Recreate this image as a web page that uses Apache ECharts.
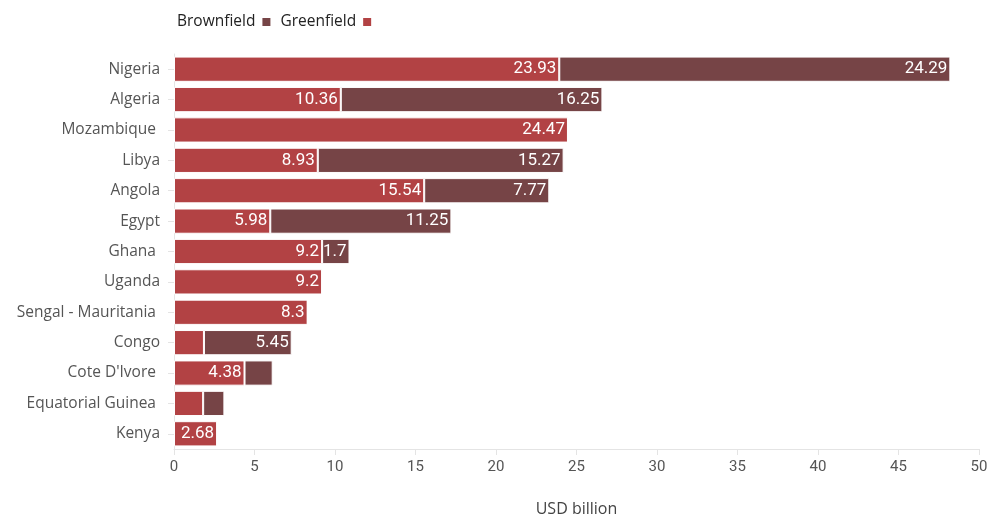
<!DOCTYPE html>
<html>
<head>
<meta charset="utf-8">
<script src="https://cdn.jsdelivr.net/npm/echarts@6/dist/echarts.min.js"></script>
<style>html,body{margin:0;padding:0;background:#fff}#c{width:988px;height:515px}</style>
</head>
<body>
<div id="c"></div>
<script>
const categories = ["Nigeria","Algeria","Mozambique ","Libya","Angola","Egypt","Ghana ","Uganda","Sengal - Mauritania ","Congo","Cote D'Ivore ","Equatorial Guinea ","Kenya"];
const greenfield = [23.93,10.36,24.47,8.93,15.54,5.98,9.2,9.2,8.3,1.86,4.38,1.81,2.68];
const brownfield = [24.29,16.25,0,15.27,7.77,11.25,1.7,0,0,5.45,1.75,1.32,0];
const xTicks = {min:0,max:50,interval:5};

const RED = '#B24244', DARK = '#764446';
const FONT = 'Roboto', TFONT = 'Open Sans';
const plotW = 988 - 174 - 9;
const pxPer = plotW / (xTicks.max - xTicks.min);
function mk(vals){
  return vals.map(v => {
    const txt = String(v);
    const show = v > 0 && (v * pxPer) >= txt.length * 7 + 4;
    return {value: v, label: {show: show}};
  });
}
const chart = echarts.init(document.getElementById('c'));
const lbl = {show:true, position:'insideRight', distance:3, color:'#fff', fontFamily:FONT, fontSize:17};
chart.setOption({
  animation:false,
  textStyle:{fontFamily:FONT},
  legend:{
    left:172, top:9, itemWidth:10, itemHeight:10, itemGap:8, align:'right',
    icon:'rect',
    textStyle:{color:'#222', fontSize:15.5, fontFamily:TFONT, padding:[0,1,0,0]},
    data:['Brownfield','Greenfield']
  },
  grid:{left:174, right:9, top:54, bottom:66, outerBoundsMode:'none', containLabel:false},
  xAxis:{
    type:'value', min:xTicks.min, max:xTicks.max, interval:xTicks.interval,
    name:'USD billion', nameLocation:'middle', nameGap:52,
    nameTextStyle:{color:'#444', fontSize:16, fontFamily:TFONT},
    axisLine:{show:true, lineStyle:{color:'#e4e4e4'}},
    axisTick:{show:true, length:6, lineStyle:{color:'#e4e4e4'}},
    axisLabel:{color:'#555', fontSize:15, margin:11, fontFamily:FONT},
    splitLine:{show:false}
  },
  yAxis:{
    type:'category', data:categories, inverse:true,
    axisLine:{show:true, lineStyle:{color:'#e4e4e4'}},
    axisTick:{show:true, alignWithLabel:true, length:6, lineStyle:{color:'#e4e4e4'}},
    axisLabel:{color:'#555', fontSize:15.5, margin:14, fontFamily:TFONT}
  },
  series:[
    {name:'Greenfield', type:'bar', stack:'t', data:mk(greenfield), barCategoryGap:'17%',
     itemStyle:{color:RED, borderColor:'#fff', borderWidth:1}, label:lbl},
    {name:'Brownfield', type:'bar', stack:'t', data:mk(brownfield),
     itemStyle:{color:DARK, borderColor:'#fff', borderWidth:1}, label:lbl}
  ]
});
</script>
</body>
</html>
